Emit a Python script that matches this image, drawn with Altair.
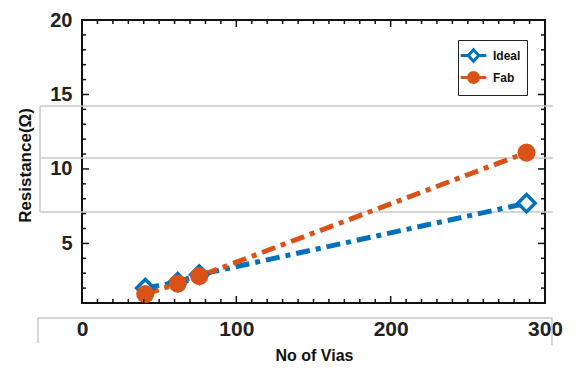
import math
import altair as alt
import pandas as pd

# ---- data ----
vias = [41, 62, 76, 288]
ideal = [2.0, 2.4, 2.9, 7.7]
fab = [1.6, 2.3, 2.8, 11.1]
series_names = ["Ideal", "Fab"]
series_colors = ["#0072BD", "#D95319"]
series_fills = ["white", "#D95319"]

x_labels = [0, 100, 200, 300]
y_labels = [5, 10, 15, 20]
x_major_ticks = [100, 200]
x_minor_ticks = [v for v in range(10, 300, 10) if v not in (100, 200)]
y_major_ticks = [5, 10, 15]
y_minor_ticks = [v for v in range(2, 20) if v not in (5, 10, 15)]

# faint scan lines visible in the reference (in data units)
scan_h_y = [14.23, 10.73, 7.11, 0.0]
scan_h_x1 = [-27, -27, -27, -28.5]
scan_h_x2 = [305, 305, 305, 305]
scan_v_x = [-27.2, -28.5, 304.5]
scan_v_y1 = [14.23, 0.0, 0.0]
scan_v_y2 = [7.11, -1.69, -1.82]

W, H = 463, 283
FONT = "Liberation Sans"

rows = []
for n, vals in (("Ideal", ideal), ("Fab", fab)):
    for v, r in zip(vias, vals):
        rows.append({"vias": v, "res": r, "series": n})
df = pd.DataFrame(rows)

xs = alt.Scale(domain=[0, 300], nice=False, zero=False)
ys = alt.Scale(domain=[1, 20], nice=False, zero=False)

xaxis = alt.Axis(
    values=x_labels, ticks=False, domain=False, grid=False,
    labelFont=FONT, labelFontSize=21, labelFontWeight="bold", labelColor="#222",
    labelPadding=15, labelFlush=False,
    title="No of Vias", titleFont=FONT, titleFontSize=16, titleFontWeight="bold",
    titleColor="#111", titleX=232, titleY=52, titleAlign="center", titleBaseline="middle",
)
yaxis = alt.Axis(
    values=y_labels, ticks=False, domain=False, grid=False,
    labelFont=FONT, labelFontSize=20, labelFontWeight="bold", labelColor="#222",
    labelPadding=10, labelFlush=False,
    title="Resistance(Ω)", titleFont=FONT, titleFontSize=17, titleFontWeight="bold",
    titleColor="#111", titleX=-57, titleY=145, titleAngle=270,
    titleAlign="center", titleBaseline="middle",
)

def X(field):
    return alt.X(field, scale=xs, axis=xaxis)

def Y(field):
    return alt.Y(field, scale=ys, axis=yaxis)

scan_h = alt.Chart(pd.DataFrame({"y": scan_h_y, "x1": scan_h_x1, "x2": scan_h_x2})).mark_rule(
    color="#c9c9c9", strokeWidth=1.5).encode(x=X("x1:Q"), x2="x2:Q", y=Y("y:Q"))
scan_v = alt.Chart(pd.DataFrame({"x": scan_v_x, "y1": scan_v_y1, "y2": scan_v_y2})).mark_rule(
    color="#c9c9c9", strokeWidth=1.5).encode(x=X("x:Q"), y=Y("y1:Q"), y2="y2:Q")

def series_layers(name, color):
    base = alt.Chart(df).transform_filter(alt.datum.series == name)
    line = base.mark_line(color=color, strokeWidth=5, strokeDash=[14, 6, 5, 6]).encode(
        x=X("vias:Q"), y=Y("res:Q"))
    if name == "Ideal":
        pts = base.mark_point(shape="diamond", size=300, strokeWidth=3.5, fill="white",
                              stroke=color, filled=False, opacity=1).encode(x=X("vias:Q"), y=Y("res:Q"))
    else:
        pts = base.mark_circle(size=330, color=color, opacity=1).encode(x=X("vias:Q"), y=Y("res:Q"))
    return line, pts

l_ideal, p_ideal = series_layers("Ideal", series_colors[0])
l_fab, p_fab = series_layers("Fab", series_colors[1])

def tick_layers(values, length):
    d = pd.DataFrame({"v": values})
    base = alt.Chart(d).mark_rule(color="#111", strokeWidth=1.5)
    return [
        base.encode(x=X("v:Q"), y=alt.value(H), y2=alt.value(H - length)),
        base.encode(x=X("v:Q"), y=alt.value(0), y2=alt.value(length)),
    ]

def ytick_layers(values, length):
    d = pd.DataFrame({"v": values})
    base = alt.Chart(d).mark_rule(color="#111", strokeWidth=1.5)
    return [
        base.encode(y=Y("v:Q"), x=alt.value(0), x2=alt.value(length)),
        base.encode(y=Y("v:Q"), x=alt.value(W), x2=alt.value(W - length)),
    ]

ticks = (tick_layers(x_minor_ticks, 4) + tick_layers(x_major_ticks, 7)
         + ytick_layers(y_minor_ticks, 4) + ytick_layers(y_major_ticks, 7))

# legend carrier: invisible points, legend symbols drawn as line+marker paths
r = 0.62
poly = "".join(
    ("M" if k == 0 else "L") + f"{r * math.cos(k * math.pi / 6):.3f},{r * math.sin(k * math.pi / 6):.3f}"
    for k in range(12)
) + "Z"
shape_paths = [
    "M-1.6,0H-0.65M0.65,0H1.6M0,-0.72L0.65,0L0,0.72L-0.65,0Z",
    "M-1.6,0H-0.6M0.6,0H1.6" + poly,
]
leg = alt.Legend(
    title=None, orient="none", legendX=376, legendY=20,
    symbolSize=256, symbolStrokeWidth=3, symbolOpacity=1,
    labelFont=FONT, labelFontSize=12, labelFontWeight="bold", labelColor="#111",
    labelOffset=10, padding=6, rowPadding=-13,
    strokeColor="#222", fillColor="white",
)
legend_layer = alt.Chart(df).mark_point(opacity=0).encode(
    x=X("vias:Q"),
    y=Y("res:Q"),
    stroke=alt.Stroke("series:N", scale=alt.Scale(domain=series_names, range=series_colors), legend=leg),
    fill=alt.Fill("series:N", scale=alt.Scale(domain=series_names, range=series_fills), legend=leg),
    shape=alt.Shape("series:N", scale=alt.Scale(domain=series_names, range=shape_paths), legend=leg),
)

chart = alt.layer(scan_h, scan_v, l_ideal, l_fab, p_ideal, p_fab, *ticks, legend_layer).properties(
    width=W, height=H,
    autosize=alt.AutoSizeParams(type="none"),
    padding={"left": 74, "top": 12, "right": 20, "bottom": 60},
    background="white",
).configure_view(stroke="#111", strokeWidth=2)

chart.save("out.html", embed_options={"renderer": "svg", "actions": False})
